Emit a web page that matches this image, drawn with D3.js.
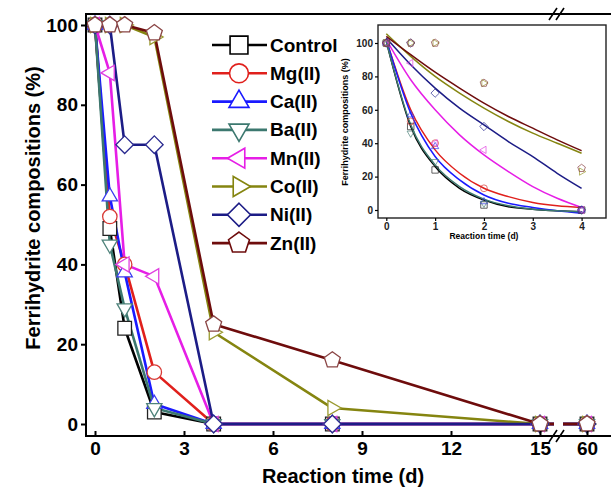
<!DOCTYPE html>
<html>
<head>
<meta charset="utf-8">
<script src="https://cdn.jsdelivr.net/npm/d3@7"></script>
<style>
  body { margin: 0; background: #fff; }
  svg { display: block; font-family: Arial, "Liberation Sans", sans-serif; font-weight: bold; }
</style>
</head>
<body>
<div id="chart"></div>
<script>
// main plot data (days, % ferrihydrite)
const days = [0, 0.5, 1, 2, 4, 8, 15, 60];
const seriesNames = ["Control", "Mg(II)", "Ca(II)", "Ba(II)", "Mn(II)", "Co(II)", "Ni(II)", "Zn(II)"];
const control = [100, 49, 24, 3, 0, 0, 0, 0];
const mg = [100, 52, 40, 13, 0, 0, 0, 0];
const ca = [100, 57, 38, 5, 0, 0, 0, 0];
const ba = [100, 45, 29, 4, 0, 0, 0, 0];
const mn = [100, 88, 40, 37, 0, 0, 0, 0];
const co = [100, 100, 100, 97, 23, 4, 0, 0];
const ni = [100, 100, 70, 70, 0, 0, 0, 0];
const zn = [100, 100, 100, 98, 25, 16, 0, 0];

const xTicks = [0, 3, 6, 9, 12, 15];
const yTicks = [0, 20, 40, 60, 80, 100];

// inset data
const insetDays = [0, 0.5, 1, 2, 4];
const insetControl = [100, 50, 24, 3, 0];
const insetMg = [100, 53, 40, 13, 0];
const insetCa = [100, 57, 38, 5, 0];
const insetBa = [100, 46, 29, 4, 0];
const insetMn = [100, 88, 40, 36, 0];
const insetCo = [100, 100, 100, 76, 23];
const insetNi = [100, 100, 70, 50, 0];
const insetZn = [100, 100, 100, 76, 25];

// fitted curves
const fitDays = [0, 0.5, 1, 1.5, 2, 2.5, 3, 3.5, 4];
const fitControl = [101, 50, 26, 13, 6, 2, 0.5, -0.5, -1];
const fitMg = [102, 60, 36, 22, 13, 8, 4.5, 2.5, 1.5];
const fitCa = [102, 58, 32, 18, 9, 4, 1.5, -0.5, -2];
const fitBa = [101, 51, 27, 14, 6.5, 2.5, 0.5, -0.5, -1];
const fitMn = [102, 78, 60, 45, 33, 23, 14, 7, 1.5];
const fitCo = [105.5, 92, 80, 70, 61, 53, 46, 40, 34];
const fitNi = [103, 87, 73, 61, 51, 41, 32, 22, 13];
const fitZn = [104, 93, 82.5, 73, 64, 56, 49, 42, 35.5];

const insetXTicks = [0, 1, 2, 3, 4];
const insetYTicks = [0, 20, 40, 60, 80, 100];

const mainValues = [control, mg, ca, ba, mn, co, ni, zn];
const insetValues = [insetControl, insetMg, insetCa, insetBa, insetMn, insetCo, insetNi, insetZn];
const fitValues = [fitControl, fitMg, fitCa, fitBa, fitMn, fitCo, fitNi, fitZn];

const colors = ["#000000", "#e0201c", "#1a1aff", "#3c786f", "#e61ee6", "#858510", "#1c1c86", "#6e0c0c"];
const markerColors = ["#222222", "#d83a36", "#3a3af0", "#4f837b", "#e040e0", "#9a9a30", "#2a2a90", "#8a4545"];
const shapes = ["square", "circle", "up", "down", "left", "right", "diamond", "pentagon"];

const width = 611, height = 489;

function shapePath(type, r) {
  const pts = [];
  if (type === "circle") {
    const c = d3.path();
    c.arc(0, 0, r * 0.9, 0, 2 * Math.PI);
    return c.toString();
  }
  if (type === "square") {
    const h = r * 0.85;
    pts.push([-h, -h], [h, -h], [h, h], [-h, h]);
  } else if (type === "diamond") {
    pts.push([0, -r * 1.1], [r * 1.1, 0], [0, r * 1.1], [-r * 1.1, 0]);
  } else if (type === "pentagon") {
    for (let i = 0; i < 5; i++) {
      const a = -Math.PI / 2 + i * 2 * Math.PI / 5;
      pts.push([r * 1.05 * Math.cos(a), r * 1.05 * Math.sin(a)]);
    }
  } else {
    const rot = { up: -Math.PI / 2, down: Math.PI / 2, left: Math.PI, right: 0 }[type];
    for (let i = 0; i < 3; i++) {
      const a = rot + i * 2 * Math.PI / 3;
      pts.push([r * 1.1 * Math.cos(a), r * 1.1 * Math.sin(a)]);
    }
  }
  return "M" + pts.map(p => p.join(",")).join("L") + "Z";
}

const svg = d3.select("#chart")
  .append("svg")
  .attr("width", width)
  .attr("height", height)
  .attr("viewBox", [0, 0, width, height]);

// main scales (broken x axis: 0-15 then 60)
const frame = { left: 86, right: 611, top: 14, bottom: 436 };
const x1 = d3.scaleLinear().domain([0, 15]).range([95, 540]);
const x2 = d3.scaleLinear().domain([58, 62]).range([563, 611]);
const xPos = d => d <= 15.5 ? x1(d) : x2(d);
const y = d3.scaleLinear().domain([0, 100]).range([424, 25]);

// series lines
const line = d3.line().x(d => xPos(d[0])).y(d => y(d[1]));

mainValues.forEach((vals, i) => {
  const pts = days.map((d, j) => [d, vals[j]]);
  svg.append("path")
    .datum(pts)
    .attr("fill", "none")
    .attr("stroke", colors[i])
    .attr("stroke-width", 2.6)
    .attr("stroke-linejoin", "round")
    .attr("d", line);
});

// gap for the broken axis
svg.append("rect")
  .attr("x", 554).attr("y", frame.top + 1)
  .attr("width", 9).attr("height", frame.bottom - frame.top - 3)
  .attr("fill", "white");

// markers
mainValues.forEach((vals, i) => {
  svg.append("g")
    .selectAll("path")
    .data(days.map((d, j) => [d, vals[j]]))
    .join("path")
    .attr("transform", d => `translate(${xPos(d[0])},${y(d[1])})`)
    .attr("d", shapePath(shapes[i], 8))
    .attr("fill", "white")
    .attr("stroke", markerColors[i])
    .attr("stroke-width", 1.3);
});

// frame
svg.append("path")
  .attr("d", `M${frame.right},${frame.top}H${frame.left}V${frame.bottom}H${frame.right}`)
  .attr("fill", "none")
  .attr("stroke", "black")
  .attr("stroke-width", 2);

// break marks on top and bottom lines
[frame.top, frame.bottom].forEach(yy => {
  [553, 560].forEach(xx => {
    svg.append("line")
      .attr("x1", xx - 4).attr("y1", yy + 6)
      .attr("x2", xx + 4).attr("y2", yy - 6)
      .attr("stroke", "black")
      .attr("stroke-width", 1.6);
  });
});

// y axis
const yAxis = svg.append("g")
  .attr("transform", `translate(${frame.left},0)`)
  .call(d3.axisLeft(y).tickValues(yTicks).tickSize(5).tickPadding(3).tickFormat(d3.format("d")));
yAxis.select(".domain").remove();
yAxis.selectAll("line").attr("stroke-width", 2);
yAxis.selectAll("text")
  .attr("font-size", 19)
  .attr("font-family", "Arial, 'Liberation Sans', sans-serif")
  .attr("font-weight", "bold")
  .attr("fill", "black");

// x axis
const xAxis = svg.append("g")
  .attr("transform", `translate(0,${frame.bottom})`)
  .call(d3.axisBottom(x1).tickValues(xTicks).tickSize(-5).tickPadding(6).tickFormat(d3.format("d")));
xAxis.select(".domain").remove();
const xAxis2 = svg.append("g")
  .attr("transform", `translate(0,${frame.bottom})`)
  .call(d3.axisBottom(x2).tickValues([60]).tickSize(-5).tickPadding(6).tickFormat(d3.format("d")));
xAxis2.select(".domain").remove();
[xAxis, xAxis2].forEach(ax => {
  ax.selectAll("line").attr("stroke-width", 2);
  ax.selectAll("text")
    .attr("font-size", 19)
    .attr("font-family", "Arial, 'Liberation Sans', sans-serif")
    .attr("font-weight", "bold")
    .attr("fill", "black");
});

// axis titles
svg.append("text")
  .attr("x", 343)
  .attr("y", 483)
  .attr("text-anchor", "middle")
  .attr("font-size", 20)
  .text("Reaction time (d)");

svg.append("text")
  .attr("transform", "translate(33,208) rotate(-90)")
  .attr("text-anchor", "middle")
  .attr("dominant-baseline", "central")
  .attr("font-size", 20)
  .text("Ferrihydrite compositions (%)");

// legend
const legend = svg.append("g")
  .selectAll("g")
  .data(seriesNames)
  .join("g")
  .attr("transform", (d, i) => `translate(0,${45 + i * 28.3})`);

legend.append("line")
  .attr("x1", 212).attr("x2", 267)
  .attr("stroke", (d, i) => colors[i])
  .attr("stroke-width", 2.6);

legend.append("path")
  .attr("transform", "translate(239,0)")
  .attr("d", (d, i) => shapePath(shapes[i], 10.5))
  .attr("fill", "white")
  .attr("stroke", (d, i) => colors[i])
  .attr("stroke-width", 1.6);

legend.append("text")
  .attr("x", 270)
  .attr("dominant-baseline", "central")
  .attr("font-size", 19)
  .text(d => d);

// inset
const inset = { left: 378, right: 606, top: 25, bottom: 218 };
const ix = d3.scaleLinear().domain([-0.17, 4.5]).range([inset.left, inset.right]);
const iy = d3.scaleLinear().domain([0, 100]).range([210, 43]);

svg.append("rect")
  .attr("x", inset.left).attr("y", inset.top)
  .attr("width", inset.right - inset.left)
  .attr("height", inset.bottom - inset.top)
  .attr("fill", "white");

const fitLine = d3.line().x(d => ix(d[0])).y(d => iy(d[1])).curve(d3.curveMonotoneX);

fitValues.forEach((vals, i) => {
  svg.append("path")
    .datum(fitDays.map((d, j) => [d, vals[j]]))
    .attr("fill", "none")
    .attr("stroke", colors[i])
    .attr("stroke-width", 1.5)
    .attr("d", fitLine);
});

insetValues.forEach((vals, i) => {
  svg.append("g")
    .selectAll("path")
    .data(insetDays.map((d, j) => [d, vals[j]]))
    .join("path")
    .attr("transform", d => `translate(${ix(d[0])},${iy(d[1])})`)
    .attr("d", shapePath(shapes[i], 3.8))
    .attr("fill", "none")
    .attr("stroke", markerColors[i])
    .attr("stroke-opacity", 0.7)
    .attr("stroke-width", 1);
});

svg.append("rect")
  .attr("x", inset.left).attr("y", inset.top)
  .attr("width", inset.right - inset.left)
  .attr("height", inset.bottom - inset.top)
  .attr("fill", "none")
  .attr("stroke", "#222")
  .attr("stroke-width", 1.4);

const iyAxis = svg.append("g")
  .attr("transform", `translate(${inset.left},0)`)
  .call(d3.axisLeft(iy).tickValues(insetYTicks).tickSize(3).tickPadding(2).tickFormat(d3.format("d")));
const ixAxis = svg.append("g")
  .attr("transform", `translate(0,${inset.bottom})`)
  .call(d3.axisBottom(ix).tickValues(insetXTicks).tickSize(3).tickPadding(2).tickFormat(d3.format("d")));
[iyAxis, ixAxis].forEach(ax => {
  ax.select(".domain").remove();
  ax.selectAll("line").attr("stroke-width", 1.2);
  ax.selectAll("text")
    .attr("font-size", 10)
    .attr("font-family", "Arial, 'Liberation Sans', sans-serif")
    .attr("font-weight", "bold")
    .attr("fill", "#222");
});

svg.append("text")
  .attr("x", ix(2))
  .attr("y", 239)
  .attr("text-anchor", "middle")
  .attr("font-size", 8.5)
  .text("Reaction time (d)");

svg.append("text")
  .attr("transform", "translate(345,122) rotate(-90)")
  .attr("text-anchor", "middle")
  .attr("dominant-baseline", "central")
  .attr("font-size", 9)
  .text("Ferrihydrite compositions (%)");
</script>
</body>
</html>
